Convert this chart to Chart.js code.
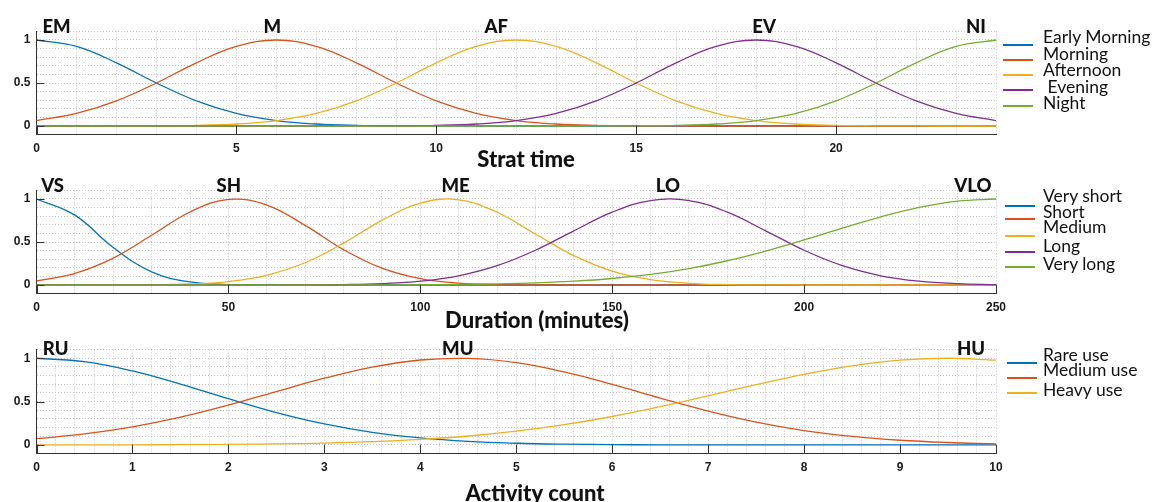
<!DOCTYPE html>
<html>
<head>
<meta charset="utf-8">
<script src="https://cdn.jsdelivr.net/npm/chart.js@4/dist/chart.umd.min.js"></script>
<style>
  body { margin: 0; background: #fff; }
  #wrap { position: relative; width: 1158px; height: 502px; overflow: hidden; font-family: Lato, sans-serif; }
  canvas { position: absolute; left: 0; }
  .lg { position: absolute; font-size: 17.5px; line-height: 18px; color: #111; white-space: pre; }
  .ln { position: absolute; width: 30px; height: 1.6px; }
</style>
</head>
<body>
<div id="wrap">
  <canvas id="c1" width="1158" height="170" style="top:0px"></canvas>
  <canvas id="c2" width="1158" height="176" style="top:159px"></canvas>
  <canvas id="c3" width="1158" height="184" style="top:318px"></canvas>
</div>
<script>
// colores por defecto de MATLAB
const colores = ["#0072BD", "#D95319", "#EDB120", "#7E2F8E", "#77AC30"];

// --- panel 1: hora de inicio ---
const horaX = [0, 1, 2, 3, 4, 5, 6, 7, 8, 9, 10, 11, 12, 13, 14, 15, 16, 17, 18, 19, 20, 21, 22, 23, 24];
const earlyMorning = [1, 0.926, 0.735, 0.5, 0.292, 0.146, 0.063, 0.023, 0.007, 0.002, 0.0005, 0, 0, 0, 0, 0, 0, 0, 0, 0, 0, 0, 0, 0, 0];
const morning = [0.063, 0.146, 0.292, 0.5, 0.735, 0.926, 1, 0.926, 0.735, 0.5, 0.292, 0.146, 0.063, 0.023, 0.007, 0.002, 0.0005, 0, 0, 0, 0, 0, 0, 0, 0];
const afternoon = [0, 0, 0.0005, 0.002, 0.007, 0.023, 0.063, 0.146, 0.292, 0.5, 0.735, 0.926, 1, 0.926, 0.735, 0.5, 0.292, 0.146, 0.063, 0.023, 0.007, 0.002, 0.0005, 0, 0];
const evening = [0, 0, 0, 0, 0, 0, 0, 0, 0.0005, 0.002, 0.007, 0.023, 0.063, 0.146, 0.292, 0.5, 0.735, 0.926, 1, 0.926, 0.735, 0.5, 0.292, 0.146, 0.063];
const night = [0, 0, 0, 0, 0, 0, 0, 0, 0, 0, 0, 0, 0, 0, 0.0005, 0.002, 0.007, 0.023, 0.063, 0.146, 0.292, 0.5, 0.735, 0.926, 1];
const horaNombres = ["Early Morning", "Morning", "Afternoon", " Evening", "Night"];
const horaEtiquetas = ["EM", "M", "AF", "EV", "NI"];
const horaPicos = [0.5, 5.9, 11.5, 18.2, 23.5];

// --- panel 2: duracion ---
const durX = [0, 10, 20, 30, 40, 50, 60, 70, 80, 90, 100, 110, 120, 130, 140, 150, 160, 170, 180, 190, 200, 210, 220, 230, 240, 250];
const veryShort = [1, 0.812, 0.435, 0.153, 0.036, 0.0055, 0.0006, 0, 0, 0, 0, 0, 0, 0, 0, 0, 0, 0, 0, 0, 0, 0, 0, 0, 0, 0];
const short = [0.047, 0.135, 0.313, 0.578, 0.849, 0.995, 0.93, 0.693, 0.411, 0.195, 0.073, 0.022, 0.0053, 0.001, 0, 0, 0, 0, 0, 0, 0, 0, 0, 0, 0, 0];
const medium = [0, 0.0001, 0.0006, 0.0029, 0.012, 0.04, 0.113, 0.259, 0.487, 0.752, 0.953, 0.991, 0.846, 0.593, 0.341, 0.161, 0.062, 0.02, 0.0052, 0.0011, 0.0002, 0, 0, 0, 0, 0];
const long = [0, 0, 0, 0, 0, 0, 0.0003, 0.0013, 0.0048, 0.0156, 0.044, 0.107, 0.224, 0.404, 0.63, 0.847, 0.982, 0.982, 0.847, 0.63, 0.404, 0.224, 0.107, 0.044, 0.0156, 0.0048];
const veryLong = [0, 0, 0, 0, 0, 0, 0, 0.0002, 0.0006, 0.0013, 0.003, 0.0063, 0.0127, 0.0243, 0.044, 0.0756, 0.123, 0.191, 0.282, 0.395, 0.524, 0.662, 0.793, 0.902, 0.975, 1];
const durNombres = ["Very short", "Short", "Medium", "Long", "Very long"];
const durEtiquetas = ["VS", "SH", "ME", "LO", "VLO"];
const durPicos = [4.2, 50.1, 109.2, 164.5, 244];

// --- panel 3: actividad ---
const actX = [0, 0.5, 1, 1.5, 2, 2.5, 3, 3.5, 4, 4.5, 5, 5.5, 6, 6.5, 7, 7.5, 8, 8.5, 9, 9.5, 10];
const rareUse = [1, 0.961, 0.854, 0.702, 0.533, 0.374, 0.243, 0.146, 0.081, 0.041, 0.0196, 0.0086, 0.0035, 0.0013, 0.0005, 0.0001, 0, 0, 0, 0, 0];
const mediumUse = [0.072, 0.127, 0.209, 0.321, 0.46, 0.616, 0.77, 0.899, 0.98, 0.998, 0.949, 0.842, 0.698, 0.54, 0.391, 0.264, 0.166, 0.098, 0.054, 0.028, 0.013];
const heavyUse = [0.0003, 0.0006, 0.0014, 0.003, 0.006, 0.0116, 0.0215, 0.038, 0.064, 0.103, 0.159, 0.234, 0.328, 0.441, 0.567, 0.695, 0.815, 0.913, 0.978, 1, 0.978];
const actNombres = ["Rare use", "Medium use", "Heavy use"];
const actEtiquetas = ["RU", "MU", "HU"];
const actPicos = [0.2, 4.39, 9.74];

const casi = (a, b) => Math.abs(a - b) < 1e-6;
const esMayor = (v, paso) => casi(v / paso, Math.round(v / paso));

// marcas hacia dentro, etiquetas de cada curva y titulo del eje
const extras = {
  id: "extras",
  afterDraw(chart, args, opts) {
    const ctx = chart.ctx;
    const xs = chart.scales.x;
    const ys = chart.scales.y;
    const area = chart.chartArea;
    ctx.save();
    ctx.strokeStyle = "#333";
    ctx.lineWidth = 1;
    ctx.beginPath();
    xs.ticks.forEach((t) => {
      if (esMayor(t.value, opts.paso)) {
        const px = Math.round(xs.getPixelForValue(t.value)) + 0.5;
        ctx.moveTo(px, area.bottom);
        ctx.lineTo(px, area.bottom - 9);
      }
    });
    [0, 0.5, 1].forEach((v) => {
      const py = Math.round(ys.getPixelForValue(v)) + 0.5;
      ctx.moveTo(area.left, py);
      ctx.lineTo(area.left + 8, py);
    });
    ctx.stroke();

    ctx.fillStyle = "#111";
    ctx.textAlign = "center";
    ctx.textBaseline = "alphabetic";
    ctx.font = "900 18.5px Lato";
    opts.etiquetas.forEach((t, i) => {
      ctx.fillText(t, xs.getPixelForValue(opts.picos[i]), area.top + opts.subir);
    });
    ctx.font = "900 22px Lato";
    ctx.fillText(opts.titulo, opts.tituloX, opts.tituloY);
    ctx.restore();
  },
};

const fuenteTicks = { size: 12, weight: "bold", family: "'Liberation Sans', Arial, sans-serif" };

function crearPanel(id, xs, series, nombres, cfg) {
  const canvas = document.getElementById(id);
  const altoX = canvas.height - cfg.arriba - cfg.alto;
  return new Chart(canvas, {
    type: "line",
    data: {
      labels: xs,
      datasets: series.map((s, i) => ({
        label: nombres[i],
        data: s,
        borderColor: colores[i],
        borderWidth: 1.3,
        pointRadius: 0,
        tension: 0.4,
        fill: false,
        order: series.length - i,
      })),
    },
    options: {
      responsive: false,
      animation: false,
      layout: { padding: { top: cfg.arriba, right: 1158 - 996, left: 0, bottom: 0 } },
      plugins: {
        legend: { display: false },
        tooltip: { enabled: false },
        extras: {
          paso: cfg.mayor,
          etiquetas: cfg.etiquetas,
          picos: cfg.picos,
          subir: cfg.subir,
          titulo: cfg.titulo,
          tituloX: cfg.tituloX,
          tituloY: cfg.tituloY,
        },
      },
      scales: {
        x: {
          type: "linear",
          min: xs[0],
          max: xs[xs.length - 1],
          afterFit: (s) => {
            s.height = altoX;
            s.paddingLeft = 0;
            s.paddingRight = 0;
          },
          ticks: {
            stepSize: cfg.menor,
            autoSkip: false,
            maxRotation: 0,
            padding: 7,
            color: "#1a1a1a",
            font: fuenteTicks,
            callback: (v) => (esMayor(v, cfg.mayor) ? String(Math.round(v)) : ""),
          },
          grid: { color: "#c4c4c4", drawTicks: false },
          border: { color: "#333", width: 1, dash: [1, 2] },
        },
        y: {
          min: -0.1,
          max: 1.1,
          afterFit: (s) => {
            s.width = 36.5;
          },
          ticks: {
            stepSize: 0.1,
            autoSkip: false,
            padding: 6,
            color: "#1a1a1a",
            font: fuenteTicks,
            callback: (v) => (casi(v, 0) ? "0" : casi(v, 0.5) ? "0.5" : casi(v, 1) ? "1" : ""),
          },
          grid: { color: "#c4c4c4", drawTicks: false },
          border: { color: "#333", width: 1, dash: [1, 2] },
        },
      },
    },
    plugins: [extras],
  });
}

function leyenda(nombres, textoY, lineaY, lineaX) {
  const wrap = document.getElementById("wrap");
  nombres.forEach((n, i) => {
    const l = document.createElement("div");
    l.className = "ln";
    l.style.left = lineaX + "px";
    l.style.top = lineaY[i] + "px";
    l.style.background = colores[i];
    wrap.appendChild(l);
    const t = document.createElement("div");
    t.className = "lg";
    t.textContent = n;
    t.style.left = "1043px";
    t.style.top = textoY[i] - 10 + "px";
    wrap.appendChild(t);
  });
}

crearPanel("c1", horaX, [earlyMorning, morning, afternoon, evening, night], horaNombres, {
  arriba: 31.4, alto: 103.2, menor: 1, mayor: 5,
  etiquetas: horaEtiquetas, picos: horaPicos, subir: 2,
  titulo: "Strat time", tituloX: 526, tituloY: 166.5,
});
crearPanel("c2", durX, [veryShort, short, medium, long, veryLong], durNombres, {
  arriba: 31.4, alto: 103.2, menor: 10, mayor: 50,
  etiquetas: durEtiquetas, picos: durPicos, subir: 1.3,
  titulo: "Duration (minutes)", tituloX: 537, tituloY: 169,
});
crearPanel("c3", actX, [rareUse, mediumUse, heavyUse], actNombres, {
  arriba: 31.6, alto: 104, menor: 0.2, mayor: 1,
  etiquetas: actEtiquetas, picos: actPicos, subir: 5.4,
  titulo: "Activity count", tituloX: 535, tituloY: 182.5,
});

leyenda(horaNombres, [38, 55, 71, 88, 104], [44, 59, 74, 89, 105], 1003);
leyenda(durNombres, [197, 213, 228, 247, 265], [205, 218, 235, 251, 266], 1005);
leyenda(actNombres, [356, 371, 391], [362, 377, 392], 1007);
</script>
</body>
</html>
